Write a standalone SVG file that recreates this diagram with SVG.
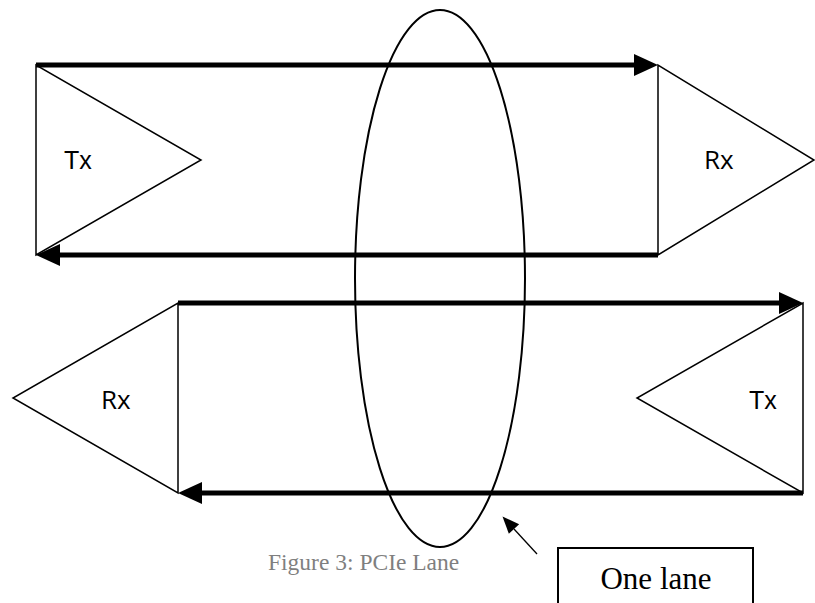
<svg xmlns="http://www.w3.org/2000/svg" width="815" height="603" viewBox="0 0 815 603">
<style>
.bus{stroke:#000;stroke-width:5;fill:none;stroke-linecap:butt}
.tri{stroke:#000;stroke-width:1.5;fill:#fff;stroke-linejoin:miter}
.lbl{font-family:"Liberation Sans",Arial,sans-serif;font-size:25px;fill:#000}
.lbl2{font-family:"Open Sans","Noto Sans",sans-serif;font-size:26px;fill:#000}
.cap{font-family:"Liberation Serif","Times New Roman",serif;font-size:23.5px;fill:#7f7f7f}
.big{font-family:"Liberation Serif","Times New Roman",serif;font-size:31px;fill:#000}
</style>
<defs>
<marker id="ah" markerUnits="userSpaceOnUse" markerWidth="24" markerHeight="22" refX="0" refY="11" orient="auto" overflow="visible">
<path d="M0,0 L24,11 L0,22 z" fill="#000"/>
</marker>
<marker id="sa" markerUnits="userSpaceOnUse" markerWidth="17" markerHeight="14" refX="0" refY="7" orient="auto" overflow="visible">
<path d="M0,0 L17,7 L0,14 z" fill="#000"/>
</marker>
</defs>
<rect width="815" height="603" fill="#fff"/>
<g id="tx1"><polygon class="tri" points="36,65 36,255 201,160"/><text class="lbl" x="64" y="169">Tx</text></g>
<g id="rx1"><polygon class="tri" points="658,65 658,255 814,160"/><text class="lbl2" x="704" y="169">Rx</text></g>
<g id="rx2"><polygon class="tri" points="178,303 178,493 13,398"/><text class="lbl2" x="101" y="409">Rx</text></g>
<g id="tx2"><polygon class="tri" points="803,303 803,493 637,398"/><text class="lbl" x="749" y="409">Tx</text></g>
<g id="connectors">
<line class="bus" x1="36" y1="65" x2="634" y2="65" marker-end="url(#ah)"/>
<line class="bus" x1="658" y1="255" x2="60" y2="255" marker-end="url(#ah)"/>
<line class="bus" x1="178" y1="303" x2="779" y2="303" marker-end="url(#ah)"/>
<line class="bus" x1="803" y1="493" x2="202" y2="493" marker-end="url(#ah)"/>
<line x1="537" y1="554" x2="514" y2="529" stroke="#000" stroke-width="1.3" marker-end="url(#sa)"/>
</g>
<g id="lane"><ellipse cx="440" cy="278.5" rx="85" ry="268.5" fill="none" stroke="#000" stroke-width="2"/></g>
<g id="onelane"><rect x="558" y="548" width="195" height="70" fill="#fff" stroke="#000" stroke-width="2"/><text class="big" x="656" y="589" text-anchor="middle">One lane</text></g>
<text class="cap" x="268" y="570">Figure 3: PCIe Lane</text>
</svg>
